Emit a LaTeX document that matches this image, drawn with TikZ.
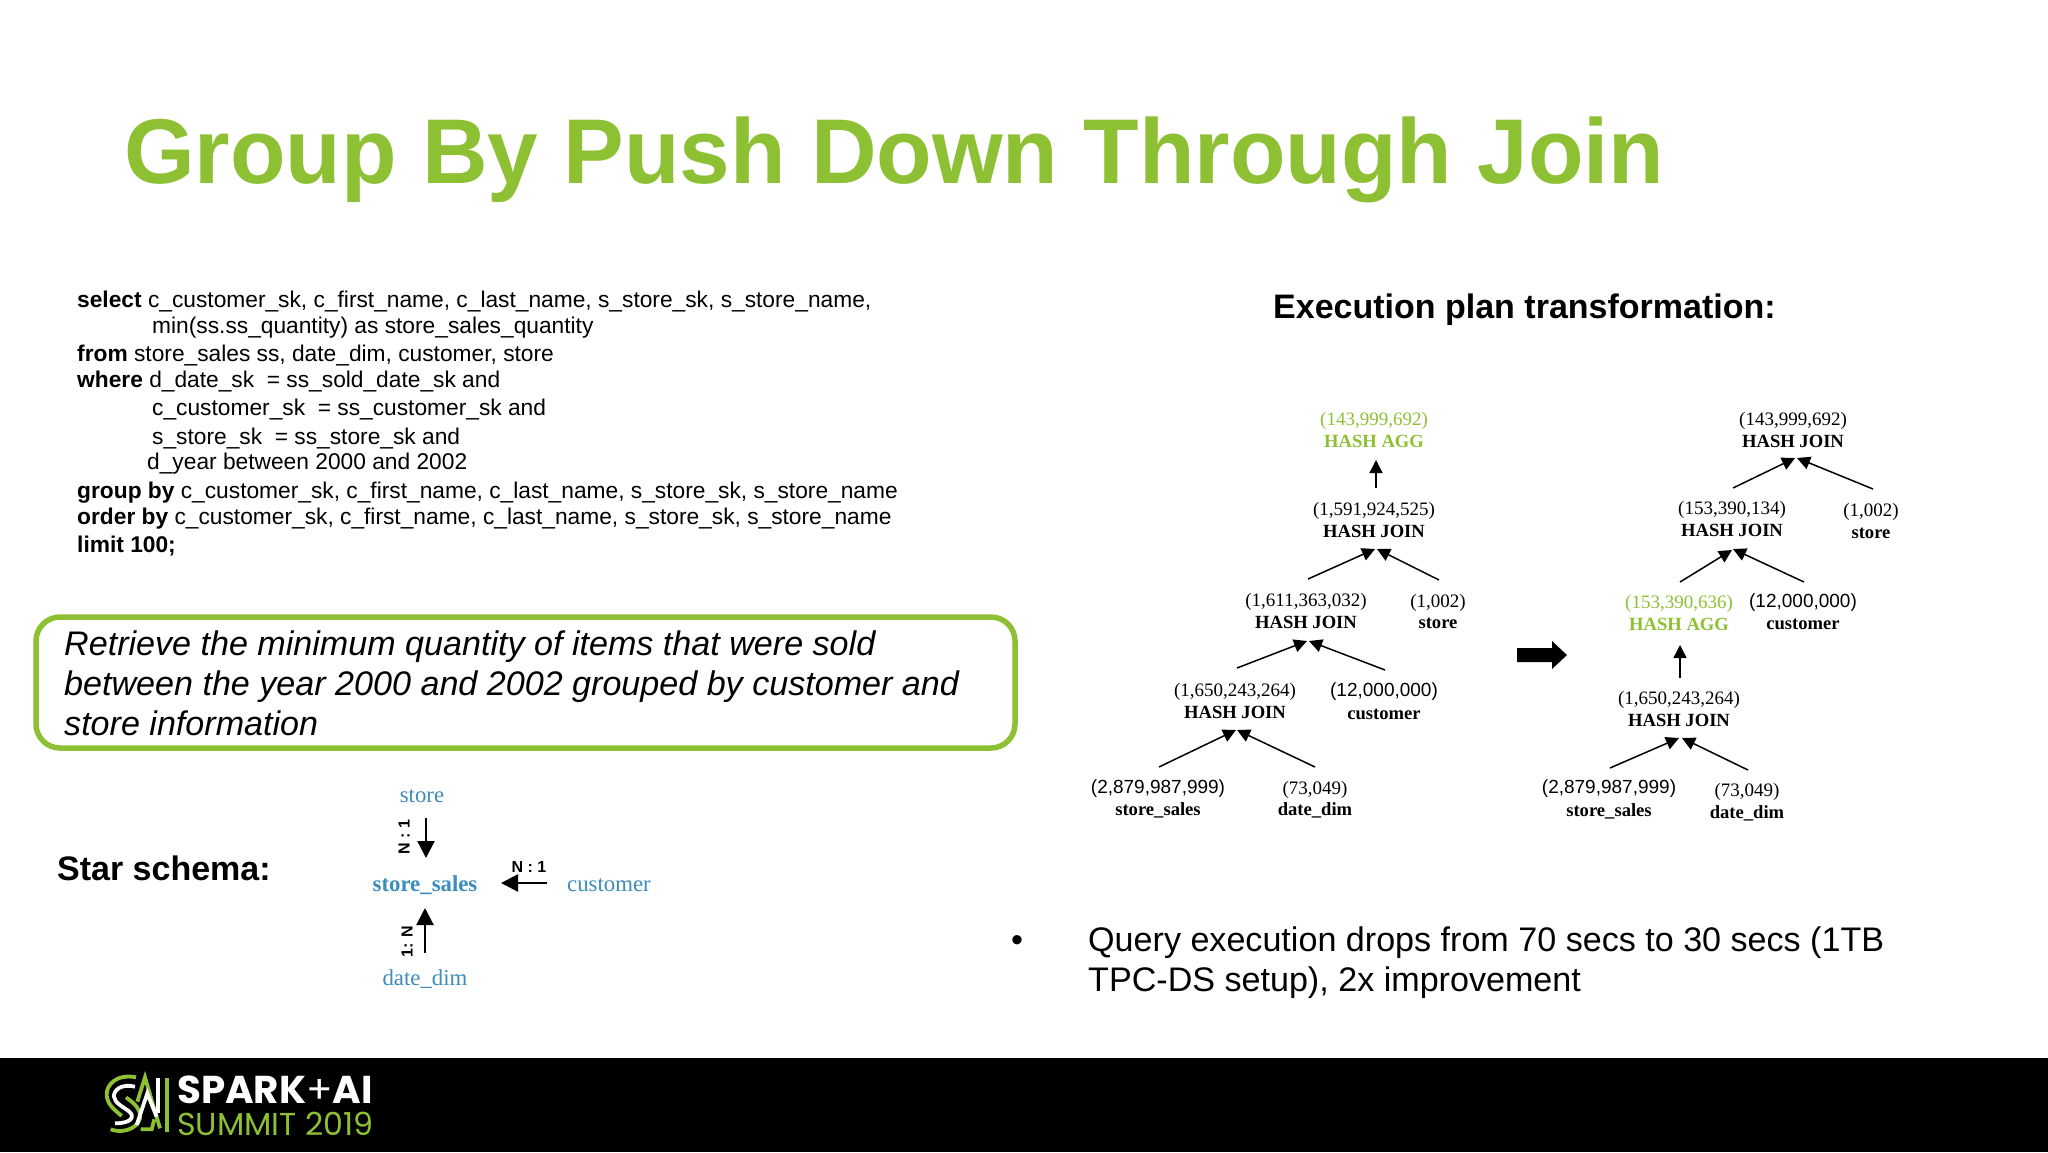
\documentclass[tikz,border=0pt]{standalone}
\usepackage{fontspec}
\setmainfont{Liberation Sans}
\newfontfamily\serifx{Liberation Serif}
\newfontfamily\pop{Poppins}
\definecolor{sparkgreen}{HTML}{8EC034}
\definecolor{schemablue}{HTML}{3C8DBC}
\newcommand{\fs}[1]{\fontsize{#1}{#1}\selectfont}
\usetikzlibrary{arrows.meta}
\tikzset{
  x=1pt,y=-1pt,
  lbl/.style={inner sep=0pt,anchor=center,align=center},
  codeline/.style={inner sep=0pt,anchor=base west,font=\fs{22.75}},
  count/.style={lbl,font=\serifx\fs{19}},
  countsans/.style={lbl,font=\fs{19}},
  opname/.style={lbl,font=\serifx\bfseries\fs{18.6}},
  edge/.style={draw=black,line width=1.5pt,-{Triangle[length=13pt,width=13pt]}},
  schemaedge/.style={draw=black,line width=2.2pt,-{Triangle[length=17pt,width=17pt]}},
  blue/.style={lbl,font=\serifx\fs{22.8},text=schemablue},
  ratio/.style={lbl,font=\bfseries\fs{16}},
  bodyline/.style={inner sep=0pt,anchor=base west,font=\fs{34.1}},
  ital/.style={inner sep=0pt,anchor=base west,font=\itshape\fs{34.1}},
  logogreen/.style={draw=sparkgreen,line width=3.8pt},
  logowhite/.style={draw=white,line width=3.8pt},
}
\begin{document}
\begin{tikzpicture}
\useasboundingbox (0,0) rectangle (2048,1152);
\fill[white] (0,0) rectangle (2048,1152);
\fill[black] (0,1058) rectangle (2048,1152);
% title
\node[inner sep=0pt,anchor=base west,font=\bfseries\fs{92},text=sparkgreen,xscale=0.988,transform shape] (title) at (124,183) {Group By Push Down Through Join};
% SQL
\node[codeline] (c1) at (77,307) {\textbf{select} c\_customer\_sk, c\_first\_name, c\_last\_name, s\_store\_sk, s\_store\_name,};
\node[codeline] (c2) at (152,333) {min(ss.ss\_quantity) as store\_sales\_quantity};
\node[codeline] (c3) at (77,361) {\textbf{from} store\_sales ss, date\_dim, customer, store};
\node[codeline] (c4) at (77,387) {\textbf{where} d\_date\_sk\ \ = ss\_sold\_date\_sk and};
\node[codeline] (c5) at (152,415) {c\_customer\_sk\ \ = ss\_customer\_sk and};
\node[codeline] (c6) at (152,444) {s\_store\_sk\ \ = ss\_store\_sk and};
\node[codeline] (c7) at (147,469) {d\_year between 2000 and 2002};
\node[codeline] (c8) at (77,498) {\textbf{group by} c\_customer\_sk, c\_first\_name, c\_last\_name, s\_store\_sk, s\_store\_name};
\node[codeline] (c9) at (77,524) {\textbf{order by} c\_customer\_sk, c\_first\_name, c\_last\_name, s\_store\_sk, s\_store\_name};
\node[codeline] (c10) at (77,552) {\textbf{limit 100;}};
% callout
\draw[sparkgreen,line width=5.5pt,rounded corners=24pt] (36,617) rectangle (1015,748);
\node[ital] (i1) at (64,655) {Retrieve the minimum quantity of items that were sold};
\node[ital] (i2) at (64,695) {between the year 2000 and 2002 grouped by customer and};
\node[ital] (i3) at (64,735) {store information};
% star schema
\node[inner sep=0pt,anchor=base west,font=\bfseries\fs{34}] (star) at (57,880) {Star schema:};
\node[blue] (sstore) at (422,796) {store};
\node[blue,font=\serifx\bfseries\fs{22.8}] (ssales) at (425,885) {store\_sales};
\node[blue] (scust) at (609,885) {customer};
\node[blue] (sdate) at (425,979) {date\_dim};
\coordinate (a1s) at (426,818); \coordinate (a1e) at (426,858);
\coordinate (a2s) at (547,883); \coordinate (a2e) at (501,883);
\coordinate (a3s) at (425,953); \coordinate (a3e) at (425,908);
\draw[schemaedge] (a1s) -- (a1e);
\draw[schemaedge] (a2s) -- (a2e);
\draw[schemaedge] (a3s) -- (a3e);
\node[ratio,rotate=90] (r1) at (404,837) {N : 1};
\node[ratio] (r2) at (529,867) {N : 1};
\node[ratio,rotate=90] (r3) at (407,942) {1: N};
% execution plan heading
\node[inner sep=0pt,anchor=base west,font=\bfseries\fs{34}] (plan) at (1273,318) {Execution plan transformation:};
% left tree
\node[count,text=sparkgreen] (l1c) at (1374,421) {(143,999,692)};
\node[opname,text=sparkgreen] (l1) at (1374,441) {HASH AGG};
\node[count] (l2c) at (1374,511) {(1,591,924,525)};
\node[opname] (l2) at (1374,531) {HASH JOIN};
\node[count] (l3c) at (1306,602) {(1,611,363,032)};
\node[opname] (l3) at (1306,622) {HASH JOIN};
\node[count] (l4c) at (1438,603) {(1,002)};
\node[opname] (l4) at (1438,623) {store};
\node[count] (l5c) at (1235,692) {(1,650,243,264)};
\node[opname] (l5) at (1235,712) {HASH JOIN};
\node[countsans] (l6c) at (1384,692) {(12,000,000)};
\node[opname] (l6) at (1384,714) {customer};
\node[countsans] (l7c) at (1158,789) {(2,879,987,999)};
\node[opname] (l7) at (1158,810) {store\_sales};
\node[count] (l8c) at (1315,790) {(73,049)};
\node[opname] (l8) at (1315,810) {date\_dim};
\coordinate (la) at (1376,488); \coordinate (lb) at (1376,460);
\draw[edge] (la) -- (lb);
\draw[edge] (1308,579) -- (1375,549);
\draw[edge] (1439,580) -- (1377,549);
\draw[edge] (1237,668) -- (1307,641);
\draw[edge] (1385,670) -- (1309,641);
\draw[edge] (1159,767) -- (1236,730);
\draw[edge] (1315,767) -- (1237,730);
% big arrow
\fill[black] (1517,648) -- (1552,648) -- (1552,641) -- (1567,655) -- (1552,669) -- (1552,662) -- (1517,662) -- cycle;
% right tree
\node[count] (r1c) at (1793,421) {(143,999,692)};
\node[opname] (rr1) at (1793,441) {HASH JOIN};
\node[count] (r2c) at (1732,510) {(153,390,134)};
\node[opname] (rr2) at (1732,530) {HASH JOIN};
\node[count] (r3c) at (1871,512) {(1,002)};
\node[opname] (rr3) at (1871,533) {store};
\node[count,text=sparkgreen] (r4c) at (1679,604) {(153,390,636)};
\node[opname,text=sparkgreen] (rr4) at (1679,624) {HASH AGG};
\node[countsans] (r5c) at (1803,603) {(12,000,000)};
\node[opname] (rr5) at (1803,624) {customer};
\node[count] (r6c) at (1679,700) {(1,650,243,264)};
\node[opname] (rr6) at (1679,720) {HASH JOIN};
\node[countsans] (r7c) at (1609,789) {(2,879,987,999)};
\node[opname] (rr7) at (1609,811) {store\_sales};
\node[count] (r8c) at (1747,792) {(73,049)};
\node[opname] (rr8) at (1747,813) {date\_dim};
\draw[edge] (1733,488) -- (1795,458);
\draw[edge] (1873,489) -- (1797,458);
\draw[edge] (1680,582) -- (1732,550);
\draw[edge] (1804,582) -- (1733,549);
\draw[edge] (1680,678) -- (1680,645);
\draw[edge] (1610,768) -- (1679,738);
\draw[edge] (1748,770) -- (1682,738);
% bullet
\node[bodyline] (b0) at (1011,951) {•};
\node[bodyline] (b1) at (1088,951) {Query execution drops from 70 secs to 30 secs (1TB};
\node[bodyline] (b2) at (1088,991) {TPC-DS setup), 2x improvement};
% logo mark
\begin{scope}[shift={(80,1060)},x=0.3333pt,y=-0.3333pt]
\draw[logogreen] (168,52) .. controls (110,40) and (78,75) .. (80,105) .. controls (82,135) and (105,150) .. (125,168);
\draw[logogreen] (92,208) .. controls (140,225) and (185,195) .. (180,165) .. controls (178,140) and (155,125) .. (138,112);
\draw[logowhite] (165,80) .. controls (125,70) and (100,90) .. (102,110) .. controls (104,130) and (130,140) .. (148,155) .. controls (165,170) and (155,190) .. (105,190);
\draw[logogreen,line join=miter] (172,125) -- (195,52) -- (240,205);
\draw[logowhite] (170,195) -- (202,100) -- (230,170);
\draw[logowhite] (235,55) -- (235,160);
\draw[logogreen] (260,55) -- (260,215);
\draw[logogreen] (182,208) -- (215,208) -- (223,178);
\end{scope}
% logo text
\node[inner sep=0pt,anchor=base west,font=\pop\fs{38.8},text=white] (spark) at (177,1103) {\textbf{SPARK}+\textbf{AI}};
\node[inner sep=0pt,anchor=base west,font=\pop\fs{31.7},text=sparkgreen] (summit) at (177,1135) {SUMMIT 2019};
\end{tikzpicture}
\end{document}
